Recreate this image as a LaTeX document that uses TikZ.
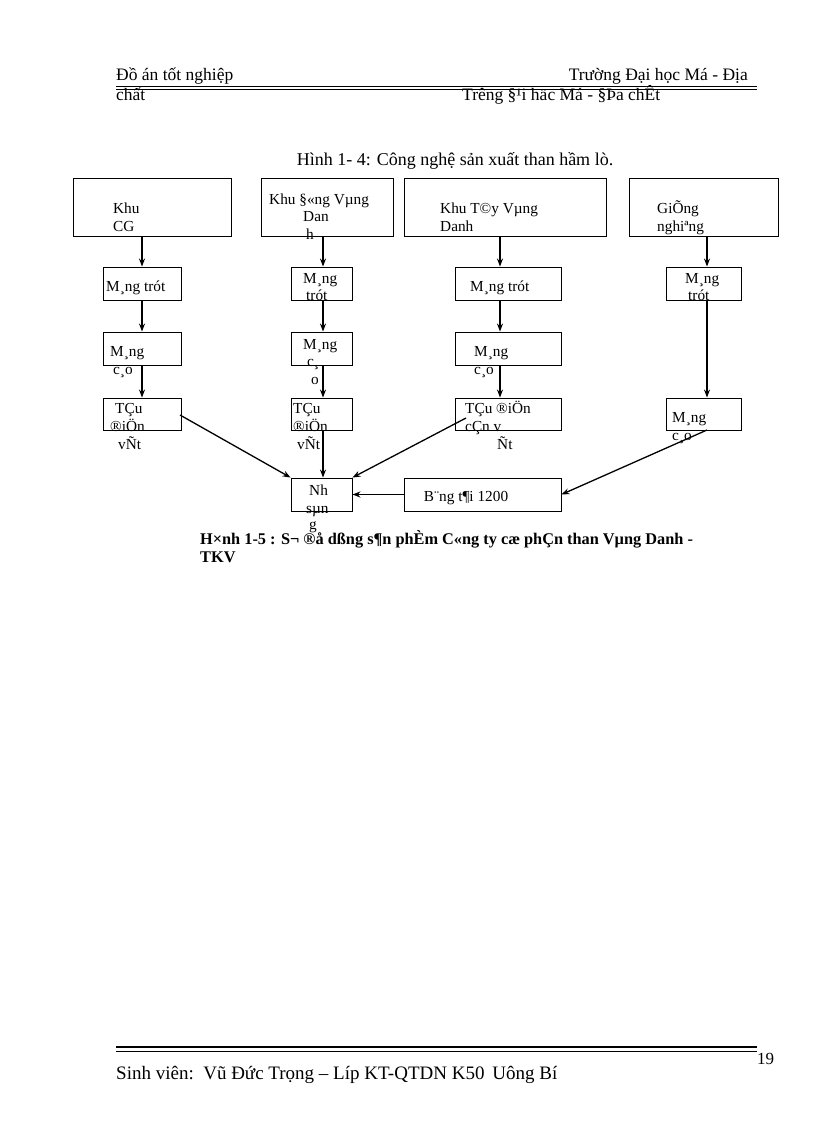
\documentclass[tikz,border=0pt]{standalone}
\usepackage{fontspec}
\usetikzlibrary{arrows.meta}
\setmainfont{Liberation Serif}
\begin{document}
\begin{tikzpicture}[x=1pt,y=-1pt,
  box/.style={draw,line width=0.9pt,inner sep=0},
  t/.style={anchor=base west,inner sep=0,font=\fontsize{15.3}{15}\selectfont},
  arr/.style={-{Stealth[length=8pt,width=6pt]},line width=1.3pt}]
\useasboundingbox (0,0) rectangle (816,1123);
% boxes
\newcommand{\mkbox}[5]{\node[box,minimum width=#4-#2,minimum height=#5-#3] (#1) at ({(#2+#4)/2},{(#3+#5)/2}) {};}
\mkbox{a1}{73}{178}{231}{236}
\mkbox{b1}{261}{178}{393}{236}
\mkbox{c1}{404}{178}{606}{236}
\mkbox{d1}{629}{178}{778}{236}
\mkbox{a2}{103}{267}{181}{300}
\mkbox{b2}{291}{267}{352}{300}
\mkbox{c2}{455}{267}{561}{300}
\mkbox{d2}{666}{267}{741}{300}
\mkbox{a3}{103}{332}{181}{365}
\mkbox{b3}{291}{332}{352}{365}
\mkbox{c3}{455}{332}{561}{365}
\mkbox{a4}{103}{398}{181}{430}
\mkbox{b4}{291}{398}{352}{430}
\mkbox{c4}{455}{398}{561}{430}
\mkbox{d4}{666}{398}{741}{430}
\mkbox{ns}{291}{478}{352}{511}
\mkbox{bt}{404}{478}{561}{511}
% arrows
\foreach \u/\v/\x in {a1/a2/142,a2/a3/142,a3/a4/142,b1/b2/323,b2/b3/323,b3/b4/323,b4/ns/323,c1/c2/500,c2/c3/500,c3/c4/500,d1/d2/707,d2/d4/707}
  \draw[arr] (\u.south -| \x,0) -- (\v.north -| \x,0);
\coordinate (p1) at (180,415);
\coordinate (p2) at (466,418);
\coordinate (p3) at (707,430);
\draw[arr] (p1) -- (ns.north west);
\draw[arr] (p2) -- (ns.north east);
\draw[arr] (p3) -- (bt.east);
\draw[arr] (bt.west) -- (ns.east);
% box texts
\node[t] at (113,214) {Khu};
\node[t] at (113,232) {CG};
\node[t] at (269,205) {Khu §«ng Vµng};
\node[t] at (303,222) {Dan};
\node[t] at (306,240) {h};
\node[t] at (440,214) {Khu T©y Vµng};
\node[t] at (440,232) {Danh};
\node[t] at (657,214) {GiÕng};
\node[t] at (657,232) {nghiªng};
\node[t] at (106,291) {M¸ng trót};
\node[t] at (303,283) {M¸ng};
\node[t] at (306,300) {trót};
\node[t] at (470,291) {M¸ng trót};
\node[t] at (685,283) {M¸ng};
\node[t] at (688,300) {trót};
\node[t] at (110,356) {M¸ng};
\node[t] at (113,374) {c¸o};
\node[t] at (303,349) {M¸ng};
\node[t] at (307,366) {c¸};
\node[t] at (311,384) {o};
\node[t] at (474,356) {M¸ng};
\node[t] at (474,374) {c¸o};
\node[t] at (115,413) {TÇu};
\node[t] at (110,431) {®iÖn};
\node[t] at (118,449) {vÑt};
\node[t] at (293,413) {TÇu};
\node[t] at (293,431) {®iÖn};
\node[t] at (297,449) {vÑt};
\node[t] at (465,413) {TÇu ®iÖn};
\node[t] at (465,431) {cÇn v};
\node[t] at (497,449) {Ñt};
\node[t] at (672,422) {M¸ng};
\node[t] at (672,440) {c¸o};
\node[t] at (309,495) {Nh};
\node[t] at (306,513) {sµn};
\node[t] at (309,529) {g};
\node[t,anchor=base] at (466,501) {B¨ng t¶i 1200};
% captions
\node[inner sep=0,anchor=base,font=\fontsize{18}{18}\selectfont] at (455,166) {Hình 1- 4: Công nghệ sản xuất than hầm lò.};
\node[t,font=\fontsize{16.3}{16}\selectfont\bfseries] at (200,544) {H×nh 1-5 : S¬ ®å dßng s¶n phÈm C«ng ty cæ phÇn than Vµng Danh -};
\node[t,font=\fontsize{16.3}{16}\selectfont\bfseries] at (200,562) {TKV};
% header
\node[t,font=\fontsize{17.5}{17}\selectfont] at (116,81) {Đồ án tốt nghiệp};
\node[t,anchor=base east,font=\fontsize{17.5}{17}\selectfont] at (748,81) {Trường Đại học Má - Địa};
\draw[line width=0.8pt] (116,86) -- (757,86);
\draw[line width=0.8pt] (116,89) -- (757,89);
\node[t,font=\fontsize{17.5}{17}\selectfont] at (116,101) {chất};
\node[t,font=\fontsize{17.5}{17}\selectfont] at (462,101) {Trêng §¹i häc Má - §Þa chÊt};
% footer
\draw[line width=1.2pt] (116,1047) -- (757,1047);
\draw[line width=0.6pt] (116,1051) -- (757,1051);
\node[t,font=\fontsize{19}{19}\selectfont] at (116,1079) {Sinh viên:\, Vũ Đức Trọng – Líp KT-QTDN K50\, Uông Bí};
\node[t,font=\fontsize{17}{17}\selectfont] at (757,1064) {19};
\end{tikzpicture}
\end{document}
